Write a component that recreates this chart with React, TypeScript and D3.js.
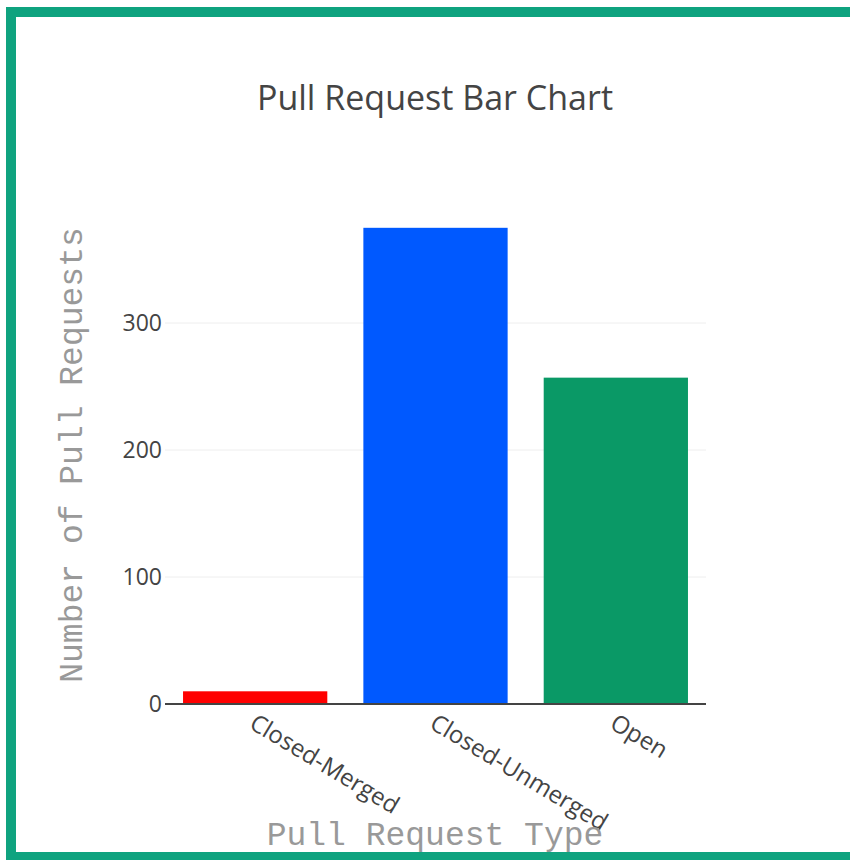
import React from "react";
import * as d3 from "d3";

const categories = ["Closed-Merged", "Closed-Unmerged", "Open"];
const values = [10, 375, 257];
const barColors = ["#ff0000", "#0059ff", "#0a9966"];
const yTicks = [0, 100, 200, 300];

export default function App() {
  const W = 850, H = 860;
  const left = 165, right = 706, top = 204, bottom = 704;
  const sans = "'Open Sans', sans-serif";
  const mono = "'Courier New', 'Liberation Mono', monospace";
  const x = d3.scaleBand<string>().domain(categories).range([left, right]).paddingInner(0.2).paddingOuter(0.1);
  const yMax = d3.max(values)! * 1.05;
  const y = d3.scaleLinear().domain([0, yMax]).range([bottom, top]);
  return (
    <svg width={W} height={H} style={{ position: "absolute", left: 0, top: 0, background: "#fff" }}>
      <rect x={0} y={0} width={W} height={H} fill="#fff" />
      {yTicks.filter(t => t > 0).map(t => (
        <line key={t} x1={left} x2={right} y1={y(t)} y2={y(t)} stroke="#eeeeee" strokeWidth={1} />
      ))}
      {categories.map((c, i) => (
        <rect key={c} x={x(c)} y={y(values[i])} width={x.bandwidth()} height={y(0) - y(values[i])} fill={barColors[i]} />
      ))}
      <line x1={left} x2={right} y1={y(0)} y2={y(0)} stroke="#444" strokeWidth={2} />
      {yTicks.map(t => (
        <text key={t} x={left - 3} y={y(t)} dy="0.36em" textAnchor="end" fontFamily={sans} fontSize={23} fill="#444">{t}</text>
      ))}
      {categories.map(c => (
        <text key={c} transform={`translate(${x(c)! + x.bandwidth() / 2 + 2},${bottom + 8}) rotate(31)`} dy="0.75em" textAnchor="start" fontFamily={sans} fontSize={24} fill="#444">{c}</text>
      ))}
      <text x={435} y={110} textAnchor="middle" fontFamily={sans} fontSize={34} fill="#444">Pull Request Bar Chart</text>
      <text x={435} y={845} textAnchor="middle" fontFamily={mono} fontSize={33} fill="#999">Pull Request Type</text>
      <text transform={`translate(82,${455}) rotate(-90)`} textAnchor="middle" fontFamily={mono} fontSize={33} fill="#999">Number of Pull Requests</text>
      <rect x={11} y={12} width={900} height={845} fill="none" stroke="#0fa37f" strokeWidth={10} />
    </svg>
  );
}
